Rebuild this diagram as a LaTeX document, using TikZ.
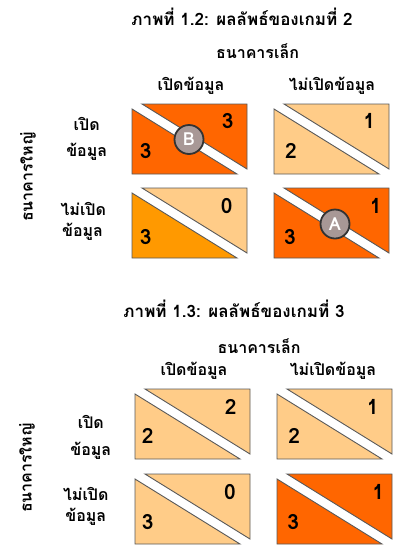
\documentclass[tikz,border=0pt]{standalone}
\usepackage{fontspec}
\newfontfamily\thaifont[Script=Thai]{Loma}
\usetikzlibrary{positioning}
\definecolor{darkorange}{HTML}{FF6600}
\definecolor{midorange}{HTML}{FF9900}
\definecolor{lightorange}{HTML}{FFCC88}
\definecolor{edgegray}{HTML}{595959}
\definecolor{markfill}{RGB}{168,152,150}
\tikzset{
	cellline/.style={draw=edgegray, line width=0.9pt},
	payoff/.style={font=\thaifont\bfseries\fontsize{21}{21}\selectfont},
	label/.style={anchor=base, font=\thaifont\bfseries\fontsize{16}{16}\selectfont},
	titletext/.style={anchor=base, font=\thaifont\bfseries\fontsize{17}{17}\selectfont},
	marker/.style={circle, draw=black!80, line width=1.8pt, fill=markfill, minimum size=29pt, inner sep=0pt, text=white, font=\thaifont\bfseries\fontsize{18}{18}\selectfont}
}
% one cell: corner (x,y), fill lower triangle : fill upper triangle
\def\paycell(#1,#2)(#3:#4){%
	\draw[cellline, fill=#3] (#1,#2+5) -- (#1,#2+70) -- (#1+105,#2+70) -- cycle;
	\draw[cellline, fill=#4] (#1+10,#2) -- (#1+115,#2) -- (#1+115,#2+65) -- cycle;}

\begin{document}
\begin{tikzpicture}[x=1pt, y=-1pt]
		\useasboundingbox (0,0) rectangle (404,550);
		
		%%%%% GAME 2 %%%%%
		\node[titletext] (title2) at (242,25) {ภาพที่ 1.2: ผลลัพธ์ของเกมที่ 2};
		\node[label] (small2) at (257.5,58) {ธนาคารเล็ก};
		\node[label] (open2) at (191,90) {เปิดข้อมูล};
		\node[label] (close2) at (332,90) {ไม่เปิดข้อมูล};
		\node[label, rotate=90, anchor=center] (big2) at (28,177) {ธนาคารใหญ่};
		\node[label] (ropen2) at (86.7,130) {เปิด};
		\node[label] (ropendata2) at (86.7,156.7) {ข้อมูล};
		\node[label] (rclose2) at (83.3,215) {ไม่เปิด};
		\node[label] (rclosedata2) at (82.5,236.7) {ข้อมูล};
		
		\paycell(132,104)(darkorange:darkorange)
		\paycell(274,104)(lightorange:lightorange)
		\paycell(132,188)(midorange:lightorange)
		\paycell(274,188)(darkorange:darkorange)
		
		\node[payoff] (ga) at (227.7,120.7) {3};
		\node[payoff] (gb) at (145.7,150.7) {3};
		\node[payoff] (gc) at (369.3,120.7) {1};
		\node[payoff] (gd) at (291,150.7) {2};
		\node[payoff] (ge) at (226.7,206) {0};
		\node[payoff] (gf) at (145.7,236.7) {3};
		\node[payoff] (gg) at (375.7,206) {1};
		\node[payoff] (gh) at (290,236.7) {3};
		
		\node[marker] (markB) at (189,139.5) {B};
		\node[marker] (markA) at (335,224) {A};
		
		%%%%% GAME 3 %%%%%
		\node[titletext] (title3) at (234,317) {ภาพที่ 1.3: ผลลัพธ์ของเกมที่ 3};
		\node[label] (small3) at (259,353) {ธนาคารเล็ก};
		\node[label] (open3) at (194,375) {เปิดข้อมูล};
		\node[label] (close3) at (333,375) {ไม่เปิดข้อมูล};
		\node[label, rotate=90, anchor=center] (big3) at (27,468) {ธนาคารใหญ่};
		\node[label] (ropen3) at (90.8,428) {เปิด};
		\node[label] (ropendata3) at (90.8,455) {ข้อมูล};
		\node[label] (rclose3) at (85.8,500) {ไม่เปิด};
		\node[label] (rclosedata3) at (85.8,521.7) {ข้อมูล};
		
		\paycell(135,389)(lightorange:lightorange)
		\paycell(277,389)(lightorange:lightorange)
		\paycell(135,474)(lightorange:lightorange)
		\paycell(277,474)(darkorange:darkorange)
		
		\node[payoff] (ha) at (230.7,406.7) {2};
		\node[payoff] (hb) at (147.7,436) {2};
		\node[payoff] (hc) at (372.7,406.7) {1};
		\node[payoff] (hd) at (294.3,436) {2};
		\node[payoff] (he) at (230,491.7) {0};
		\node[payoff] (hf) at (147.7,521.7) {3};
		\node[payoff] (hg) at (378.3,491.7) {1};
		\node[payoff] (hh) at (293.3,521.7) {3};
		
\end{tikzpicture}
\end{document}
